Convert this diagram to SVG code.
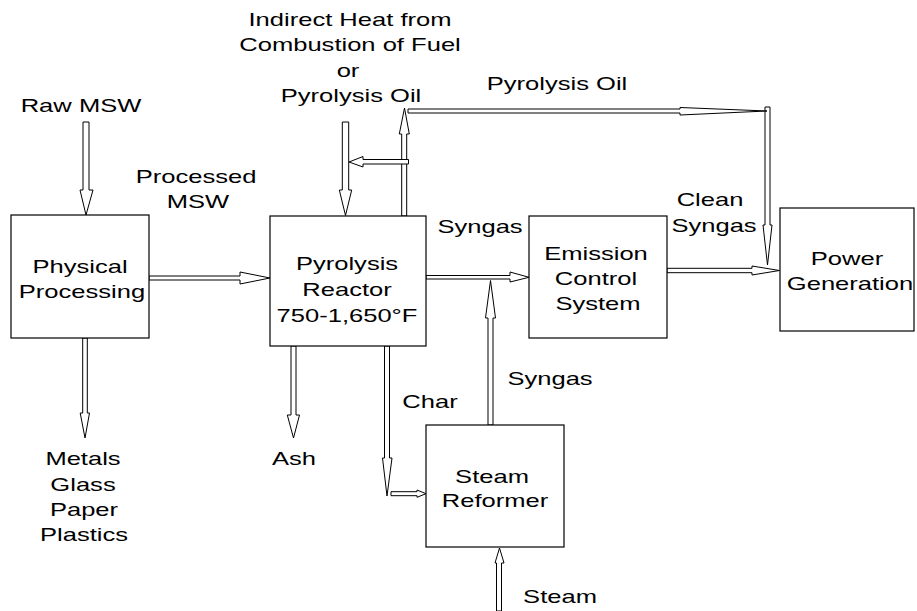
<svg xmlns="http://www.w3.org/2000/svg" width="917" height="611" viewBox="0 0 917 611">
<style>
.box{fill:#fff;stroke:#000;stroke-width:1.2}
.ar{fill:#fff;stroke:#000;stroke-width:1}
text{font-family:"Liberation Sans",Arial,sans-serif;font-size:18px;fill:#000;text-anchor:middle}
</style>
<rect width="917" height="611" fill="#fff"/>
<g id="connectors">
<polygon class="ar" points="83,122 89,122 89,190 93,190 86,215 80,190 83,190"/>
<polygon class="ar" points="149,276 240,276 240,272 270,278 240,284 240,280 149,280"/>
<polygon class="ar" points="342.3,122 348.7,122 348.7,190 351.7,190 345.5,215.5 339.3,190 342.3,190"/>
<polygon class="ar" points="401.7,216 406.7,216 406.7,134 409.3,134 404.5,108 399.3,134 401.7,134"/>
<polygon class="ar" points="408.5,159.5 363,159.5 363,156.5 349,162 363,167 363,164 408.5,164"/>
<polygon class="ar" points="765,107 770,107 770,225 772,225 767.5,265 763,225 765,225"/>
<polygon class="ar" points="408,109 680,109 680,107.5 767,111 680,115 680,113 408,113"/>
<polygon class="ar" points="426,275.5 510,275.5 510,272 529,277.3 510,282 510,279 426,279"/>
<polygon class="ar" points="488,425 493,425 493,318 495.5,318 490.5,280.5 485.5,318 488,318"/>
<polygon class="ar" points="667,268.3 752,268.3 752,266 779.5,270.5 752,275 752,272.7 667,272.7"/>
<polygon class="ar" points="82.7,338 87.3,338 87.3,413 89.5,413 85,438 80.2,413 82.7,413"/>
<polygon class="ar" points="291,346 296,346 296,415 299.5,415 293.5,438 287.3,415 291,415"/>
<polygon class="ar" points="384.5,346 389.5,346 389.5,458 392,458 387,496 382.5,458 384.5,458"/>
<polygon class="ar" points="391,491.7 417,491.7 417,490 426,493.7 417,497.3 417,495.7 391,495.7"/>
<polygon class="ar" points="496.5,611 501.5,611 501.5,563 504,563 499.5,548 495,563 496.5,563"/>
</g>
<g id="physical">
<rect class="box" x="11" y="215" width="138" height="123"/>
<text transform="translate(80 273) scale(1.42 1)">Physical</text>
<text transform="translate(82 298) scale(1.42 1)">Processing</text>
</g>
<g id="reactor">
<rect class="box" x="270" y="216" width="156" height="130"/>
<text transform="translate(347 270) scale(1.42 1)">Pyrolysis</text>
<text transform="translate(347 296) scale(1.42 1)">Reactor</text>
<text transform="translate(347 322) scale(1.42 1)">750-1,650°F</text>
</g>
<g id="emission">
<rect class="box" x="529" y="216" width="138" height="122"/>
<text transform="translate(596 260) scale(1.42 1)">Emission</text>
<text transform="translate(596 285) scale(1.42 1)">Control</text>
<text transform="translate(598 310) scale(1.42 1)">System</text>
</g>
<g id="power">
<rect class="box" x="780" y="208" width="134" height="123"/>
<text transform="translate(847 265) scale(1.42 1)">Power</text>
<text transform="translate(850 290) scale(1.42 1)">Generation</text>
</g>
<g id="reformer">
<rect class="box" x="426" y="425" width="138" height="122"/>
<text transform="translate(492 483) scale(1.42 1)">Steam</text>
<text transform="translate(495 507) scale(1.42 1)">Reformer</text>
</g>
<g id="labels">
<text transform="translate(81 112) scale(1.42 1)">Raw MSW</text>
<text transform="translate(196 183) scale(1.42 1)">Processed</text>
<text transform="translate(198 208) scale(1.42 1)">MSW</text>
<text transform="translate(350 26) scale(1.42 1)">Indirect Heat from</text>
<text transform="translate(350 51) scale(1.42 1)">Combustion of Fuel</text>
<text transform="translate(348 77) scale(1.42 1)">or</text>
<text transform="translate(351 102) scale(1.42 1)">Pyrolysis Oil</text>
<text transform="translate(557 90) scale(1.42 1)">Pyrolysis Oil</text>
<text transform="translate(480 233) scale(1.42 1)">Syngas</text>
<text transform="translate(710 206) scale(1.42 1)">Clean</text>
<text transform="translate(714 232) scale(1.42 1)">Syngas</text>
<text transform="translate(550 385) scale(1.42 1)">Syngas</text>
<text transform="translate(430 408) scale(1.42 1)">Char</text>
<text transform="translate(294 465) scale(1.42 1)">Ash</text>
<text transform="translate(560 603) scale(1.42 1)">Steam</text>
<text transform="translate(83 465) scale(1.42 1)">Metals</text>
<text transform="translate(83 491) scale(1.42 1)">Glass</text>
<text transform="translate(84 516) scale(1.42 1)">Paper</text>
<text transform="translate(84 541) scale(1.42 1)">Plastics</text>
</g>
</svg>
